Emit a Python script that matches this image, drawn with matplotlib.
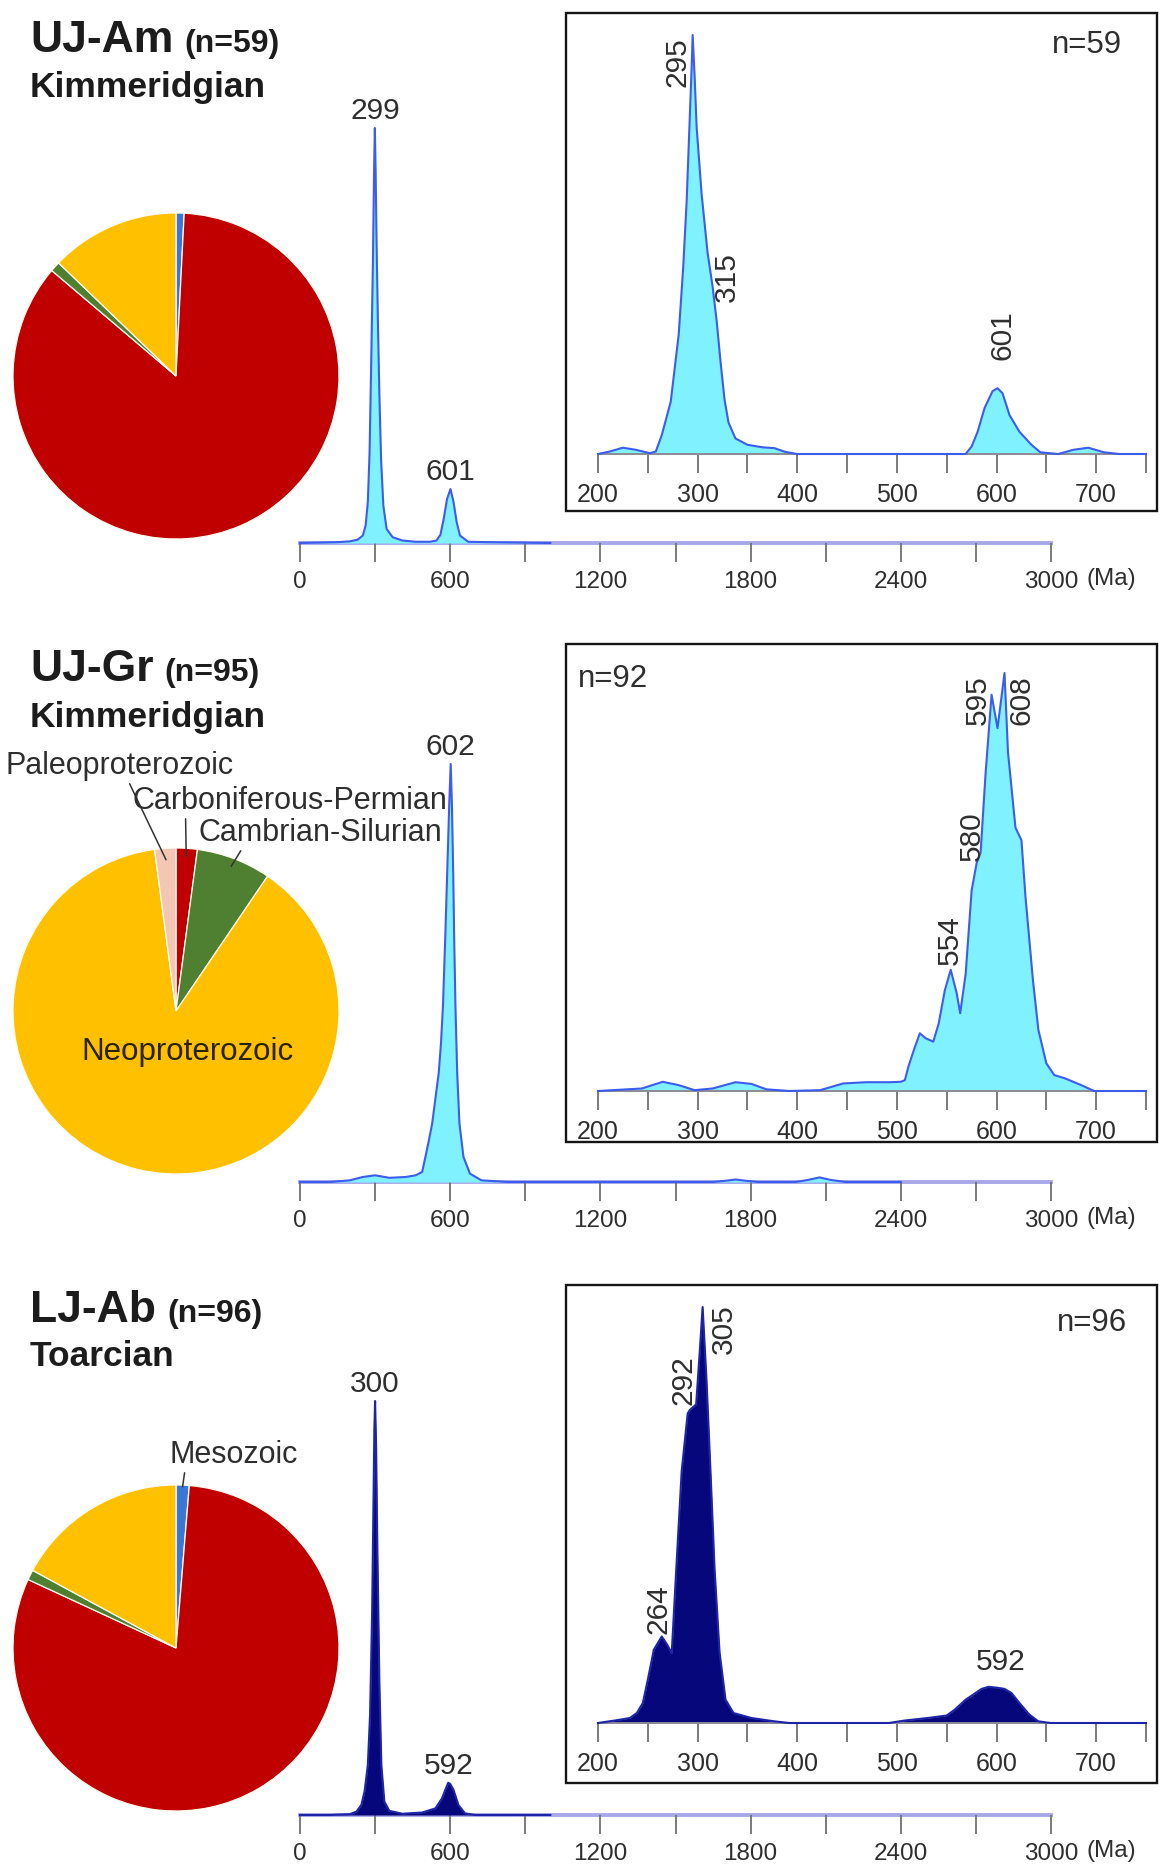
import numpy as np
import matplotlib
matplotlib.use("Agg")
import matplotlib.pyplot as plt
from matplotlib.patches import Rectangle

plt.rcParams['font.family'] = ['Liberation Sans', 'DejaVu Sans']

# ---------------------------------------------------------------- data
sample_names = ["UJ-Am", "UJ-Gr", "LJ-Ab"]
sample_counts = ["(n=59)", "(n=95)", "(n=96)"]
stages = ["Kimmeridgian", "Kimmeridgian", "Toarcian"]
inset_counts = ["n=59", "n=92", "n=96"]

age_groups = ["Mesozoic", "Carboniferous-Permian", "Cambrian-Silurian",
              "Neoproterozoic", "Paleoproterozoic"]
group_colors = ["#3A78D6", "#C00000", "#4F7F30", "#FFC000", "#F4C7B5"]
pie_am = [0.8, 85.4, 1.0, 12.8, 0.0]
pie_gr = [0.0, 2.1, 7.4, 88.4, 2.1]
pie_ab = [1.3, 80.6, 1.0, 17.1, 0.0]

# relative probability density, full age range (Ma)
age_am_full = [0, 150, 199, 230, 251, 262, 271, 278, 284, 291, 296, 299, 302, 306, 311,
               317, 324, 333, 346, 370, 409, 462, 520, 545, 561, 574, 587, 601, 613, 626,
               639, 672, 751, 1000]
dens_am_full = [0, 0.002, 0.004, 0.008, 0.018, 0.042, 0.099, 0.22, 0.42, 0.665, 0.9, 1.0,
                0.9, 0.72, 0.54, 0.36, 0.2, 0.09, 0.034, 0.014, 0.006, 0.003, 0.003, 0.006,
                0.02, 0.058, 0.105, 0.13, 0.1, 0.05, 0.018, 0.003, 0.002, 0.0]

age_gr_full = [0, 120, 199, 251, 300, 357, 422, 462, 488, 501, 515, 528, 541, 554, 563, 571,
               580, 588, 596, 602, 607, 612, 616, 621, 628, 637, 653, 679, 725, 830, 1650,
               1700, 1740, 1780, 1830, 1980, 2030, 2075, 2120, 2180, 2400]
dens_gr_full = [0, 0, 0.004, 0.012, 0.016, 0.01, 0.012, 0.016, 0.024, 0.06, 0.1, 0.14, 0.2,
                0.26, 0.33, 0.42, 0.58, 0.74, 0.9, 1.0, 0.9, 0.74, 0.58, 0.42, 0.26, 0.14,
                0.06, 0.02, 0.004, 0, 0, 0.003, 0.006, 0.003, 0, 0, 0.005, 0.011, 0.005, 0, 0]

age_ab_full = [0, 120, 199, 225, 245, 258, 271, 280, 288, 293, 297, 300, 304, 309, 317, 325,
               337, 357, 409, 488, 541, 567, 580, 592, 600, 613, 633, 659, 699, 1000]
dens_ab_full = [0, 0, 0.002, 0.008, 0.024, 0.057, 0.121, 0.243, 0.486, 0.729, 0.931, 1.0,
                0.891, 0.648, 0.324, 0.121, 0.032, 0.01, 0.003, 0.006, 0.016, 0.04, 0.06,
                0.078, 0.075, 0.061, 0.024, 0.004, 0, 0]

# relative density, 200-750 Ma detail
age_am_inset = [200, 212, 225, 238, 252, 258, 264, 273, 281, 285.5, 289, 291.5, 294, 295,
                297, 299, 304, 310, 315, 319, 323, 327, 331, 338, 350, 365, 377, 388, 400,
                569, 575, 581, 588, 596, 601, 606, 613, 623, 635, 644, 662, 677, 692, 708,
                723, 750]
dens_am_inset = [0, 0.006, 0.015, 0.01, 0.002, 0.006, 0.045, 0.125, 0.285, 0.445, 0.605,
                 0.764, 0.924, 1.0, 0.9, 0.78, 0.62, 0.48, 0.40, 0.32, 0.22, 0.13, 0.075,
                 0.037, 0.022, 0.016, 0.014, 0.005, 0.0, 0.0, 0.018, 0.053, 0.11, 0.15,
                 0.157, 0.145, 0.093, 0.053, 0.022, 0.004, 0.0, 0.01, 0.015, 0.004, 0.0, 0.0]

age_gr_inset = [200, 244, 265, 281, 297, 315, 338, 354, 369, 392, 423, 446, 469, 492, 504,
                508, 511.5, 517, 523, 529, 536.5, 542, 548, 554, 560, 563.5, 569, 575, 580,
                584, 589, 595, 601, 608, 611.5, 619, 625, 629, 636.5, 642, 650, 658, 669,
                685, 698, 750]
dens_gr_inset = [0, 0.006, 0.022, 0.014, 0.002, 0.006, 0.021, 0.017, 0.004, 0, 0.002,
                 0.018, 0.021, 0.021, 0.022, 0.026, 0.058, 0.098, 0.138, 0.126, 0.118,
                 0.162, 0.24, 0.29, 0.234, 0.186, 0.28, 0.48, 0.545, 0.57, 0.76, 0.948,
                 0.868, 1.0, 0.81, 0.63, 0.60, 0.466, 0.266, 0.146, 0.066, 0.038, 0.030,
                 0.014, 0, 0]

age_ab_inset = [200, 217, 232, 239, 245, 250, 256, 264, 269, 274, 278.5, 284, 290, 292,
                298.5, 302, 305, 309, 313, 317, 322, 328, 336, 354, 377, 392, 492, 508, 531,
                550, 558, 569, 585, 592, 600, 608, 615, 623, 633, 642, 654, 750]
dens_ab_inset = [0, 0.006, 0.012, 0.024, 0.048, 0.104, 0.176, 0.208, 0.19, 0.168, 0.368,
                 0.606, 0.744, 0.752, 0.766, 0.888, 1.0, 0.82, 0.6, 0.37, 0.17, 0.056,
                 0.024, 0.012, 0.004, 0, 0, 0.006, 0.012, 0.018, 0.032, 0.056, 0.082,
                 0.087, 0.085, 0.082, 0.072, 0.048, 0.02, 0.004, 0, 0]

# labelled peak ages
peaks_am_full = [299, 601]
peaks_gr_full = [602]
peaks_ab_full = [300, 592]
peaks_am_inset = [295, 315, 601]
peaks_gr_inset = [554, 580, 595, 608]
peaks_ab_inset = [264, 292, 305, 592]

main_ticks = list(range(0, 3001, 300))
main_ticklabels = ["0", "", "600", "", "1200", "", "1800", "", "2400", "", "3000"]
inset_ticks = list(range(200, 751, 50))
inset_ticklabels = ["200", "", "300", "", "400", "", "500", "", "600", "", "700", ""]

# ---------------------------------------------------------------- figure
W, H = 1161, 1876
fig = plt.figure(figsize=(W / 100, H / 100), dpi=100)
fig.patch.set_facecolor("white")
renderer = fig.canvas.get_renderer()

TEXT = "#1c1c1c"
LABEL = "#2e2e2e"
CYAN = "#80F2FF"
BLUE_EDGE = "#3C5CEB"
NAVY = "#07077C"
NAVY_EDGE = "#1E24A8"
PEAK_FS = 21.5
PIE_FS = 22


def px_rect(left, top, right, bottom):
    return [left / W, 1 - bottom / H, (right - left) / W, (bottom - top) / H]


def draw_density(ax, ages, dens, fill, edge):
    ax.fill_between(ages, 0, dens, color=fill, lw=0, zorder=2)
    ax.plot(ages, dens, color=edge, lw=1.5, zorder=3, clip_on=False,
            solid_joinstyle="round")


panels = [
    dict(pie=pie_am, full=(age_am_full, dens_am_full), inset=(age_am_inset, dens_am_inset),
         pf=peaks_am_full, pi=peaks_am_inset, fill=CYAN, edge=BLUE_EDGE,
         title_y=52, stage_y=97, pie_c=(176, 376), main_base=543, main_h=415,
         box=(566, 13, 1157, 511), inset_base=454, inset_h=419,
         nlab=(1087, 45, "center"),
         inset_offsets=[(-15, -27, 90), (14, 9, 90), (5, 53, 90)]),
    dict(pie=pie_gr, full=(age_gr_full, dens_gr_full), inset=(age_gr_inset, dens_gr_inset),
         pf=peaks_gr_full, pi=peaks_gr_inset, fill=CYAN, edge=BLUE_EDGE,
         title_y=681, stage_y=727, pie_c=(176, 1011), main_base=1182, main_h=418,
         box=(566, 644, 1157, 1142), inset_base=1091, inset_h=418,
         nlab=(578, 679, "left"),
         inset_offsets=[(-1, 30, 90), (-5, 27, 90), (-14, -5, 90), (17, -27, 90)]),
    dict(pie=pie_ab, full=(age_ab_full, dens_ab_full), inset=(age_ab_inset, dens_ab_inset),
         pf=peaks_ab_full, pi=peaks_ab_inset, fill=NAVY, edge=NAVY_EDGE,
         title_y=1322, stage_y=1366, pie_c=(176, 1648), main_base=1815, main_h=414,
         box=(566, 1285, 1157, 1783), inset_base=1723, inset_h=416,
         nlab=(1092, 1323, "center"),
         inset_offsets=[(-3, 27, 90), (-6, 30, 90), (21, -22, 90), (12, 25, 0)]),
]

PIE_R = 163

for i, p in enumerate(panels):
    # ---- titles
    t = fig.text(30 / W, 1 - p["title_y"] / H, sample_names[i], fontsize=32,
                 fontweight="bold", color=TEXT, va="baseline", ha="left")
    bb = t.get_window_extent(renderer=renderer)
    fig.text((bb.x1 + 11) / W, 1 - p["title_y"] / H, sample_counts[i], fontsize=23,
             fontweight="bold", color=TEXT, va="baseline", ha="left")
    fig.text(30 / W, 1 - p["stage_y"] / H, stages[i], fontsize=25.5, fontweight="bold",
             color=TEXT, va="baseline", ha="left")

    # ---- pie of age groups
    cx, cy = p["pie_c"]
    axp = fig.add_axes(px_rect(cx - PIE_R, cy - PIE_R, cx + PIE_R, cy + PIE_R))
    vals, cols, names = [], [], []
    for v, c, n in zip(p["pie"], group_colors, age_groups):
        if v > 0:
            vals.append(v)
            cols.append(c)
            names.append(n)
    wedges, _ = axp.pie(vals, colors=cols, startangle=90, counterclock=False,
                        wedgeprops=dict(edgecolor="#FFFDF0", linewidth=0.9))
    axp.set_xlim(-1, 1)
    axp.set_ylim(-1, 1)
    axp.set_aspect("equal")
    axp.axis("off")
    wedge_of = dict(zip(names, wedges))

    def wedge_point(name, r):
        w = wedge_of[name]
        th = np.deg2rad(0.5 * (w.theta1 + w.theta2))
        return (r * np.cos(th), r * np.sin(th))

    if i == 1:
        leader = dict(arrowstyle="-", color="#333333", lw=1.1, shrinkA=0, shrinkB=0)
        axp.annotate("Paleoproterozoic", xy=wedge_point("Paleoproterozoic", 0.93),
                     xytext=(120, H - 766), textcoords="figure pixels", ha="center",
                     va="center", fontsize=PIE_FS, color=LABEL,
                     arrowprops=dict(leader, relpos=(0.53, 0.1)))
        axp.annotate("Carboniferous-Permian", xy=wedge_point("Carboniferous-Permian", 0.95),
                     xytext=(132, H - 801), textcoords="figure pixels", ha="left",
                     va="center", fontsize=PIE_FS, color=LABEL,
                     arrowprops=dict(leader, relpos=(0.17, 0.1)))
        axp.annotate("Cambrian-Silurian", xy=wedge_point("Cambrian-Silurian", 0.95),
                     xytext=(198, H - 833), textcoords="figure pixels", ha="left",
                     va="center", fontsize=PIE_FS, color=LABEL,
                     arrowprops=dict(leader, relpos=(0.19, 0.1)))
        axp.text(188, H - 1052, "Neoproterozoic", transform=None, ha="center",
                 va="center", fontsize=22.5, color="#2a2200")
    if i == 2:
        axp.annotate("Mesozoic", xy=wedge_point("Mesozoic", 0.99),
                     xytext=(170, H - 1455), textcoords="figure pixels", ha="left",
                     va="center", fontsize=PIE_FS, color=LABEL,
                     arrowprops=dict(arrowstyle="-", color="#333333", lw=1.1, shrinkA=0,
                                     shrinkB=0, relpos=(0.12, 0.1)))

    # ---- full-range density
    base, hk = p["main_base"], p["main_h"]
    ax = fig.add_axes(px_rect(300, base - 1.12 * hk, 1051, base))
    ax.patch.set_alpha(0)
    ages, dens = p["full"]
    draw_density(ax, ages, dens, p["fill"], p["edge"])
    ax.set_xlim(0, 3000)
    ax.set_ylim(0, 1.12)
    for s in ("top", "right", "left"):
        ax.spines[s].set_visible(False)
    ax.spines["bottom"].set_color("#A8A8E8")
    ax.spines["bottom"].set_linewidth(2.8)
    ax.spines["bottom"].set_zorder(1)
    ax.set_yticks([])
    ax.set_xticks(main_ticks)
    ax.set_xticklabels(main_ticklabels)
    ax.tick_params(axis="x", direction="out", length=14, width=1.3, color="#6f6f6f",
                   pad=6, labelsize=17.5, labelcolor=LABEL)
    ax.annotate("(Ma)", xy=(1, 0), xycoords="axes fraction", xytext=(35, -36),
                textcoords="offset pixels", ha="left", va="center", fontsize=17.5,
                color=LABEL)
    for pk in p["pf"]:
        ax.annotate(str(pk), xy=(pk, np.interp(pk, ages, dens)), xytext=(0, 3),
                    textcoords="offset pixels", ha="center", va="bottom",
                    fontsize=PEAK_FS, color=LABEL)

    # ---- 200-750 Ma detail in a framed box
    bl, bt, br, bb_ = p["box"]
    fig.add_artist(Rectangle((bl / W, 1 - bb_ / H), (br - bl) / W, (bb_ - bt) / H,
                             transform=fig.transFigure, fill=False, lw=1.7,
                             ec="#141414"))
    ib, ih = p["inset_base"], p["inset_h"]
    axi = fig.add_axes(px_rect(598, ib - 1.06 * ih, 1146, ib))
    axi.patch.set_alpha(0)
    ages_i, dens_i = p["inset"]
    draw_density(axi, ages_i, dens_i, p["fill"], p["edge"])
    axi.set_xlim(200, 750)
    axi.set_ylim(0, 1.06)
    for s in ("top", "right", "left"):
        axi.spines[s].set_visible(False)
    axi.spines["bottom"].set_color("#8C8C96")
    axi.spines["bottom"].set_linewidth(1.4)
    axi.set_yticks([])
    axi.set_xticks(inset_ticks)
    axi.set_xticklabels(inset_ticklabels)
    axi.tick_params(axis="x", direction="out", length=14, width=1.3, color="#6f6f6f",
                    pad=7, labelsize=18, labelcolor=LABEL)
    for pk, (dx, dy, rot) in zip(p["pi"], p["inset_offsets"]):
        axi.annotate(str(pk), xy=(pk, np.interp(pk, ages_i, dens_i)), xytext=(dx, dy),
                     textcoords="offset pixels", ha="center", va="center", rotation=rot,
                     fontsize=PEAK_FS, color=LABEL)
    nx, ny, nha = p["nlab"]
    fig.text(nx / W, 1 - ny / H, inset_counts[i], fontsize=22.5, color=LABEL, ha=nha,
             va="center")

fig.savefig("out.png", dpi=100)
